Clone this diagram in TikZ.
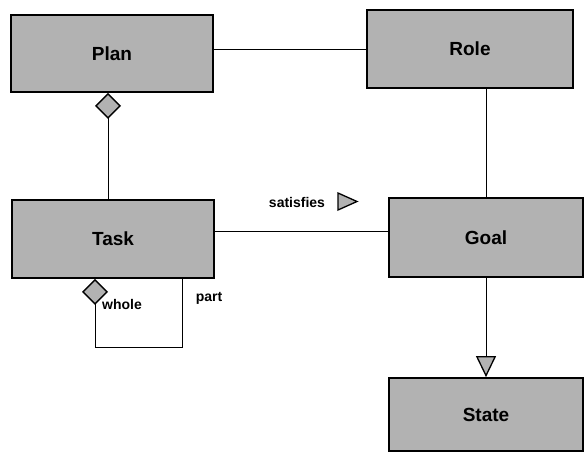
\documentclass[tikz,border=0pt]{standalone}
\usepackage{fontspec}
\setmainfont{Liberation Sans}
\usetikzlibrary{arrows.meta,calc}
\tikzset{
  cls/.style={draw, line width=1.8pt, fill=black!30, rectangle, inner sep=0pt,
    font=\fontsize{19}{22}\selectfont\bfseries},
  conn/.style={line width=1pt},
  lbl/.style={font=\fontsize{14}{16}\selectfont\bfseries, inner sep=0pt},
  agg/.style={{Diamond[width=26pt,length=26pt,fill=black!30,line width=1.4pt]}-},
  gen/.style={-{Triangle[width=20pt,length=21pt,fill=black!30,line width=1.3pt]}}
}
\begin{document}
\begin{tikzpicture}[x=1pt,y=-1pt]
\useasboundingbox (0,0) rectangle (585,452);
\node[cls, minimum width=202pt, minimum height=77pt] (Plan) at (112,53.5) {Plan};
\node[cls, minimum width=206pt, minimum height=78pt] (Role) at (470,49) {Role};
\node[cls, minimum width=202pt, minimum height=78pt] (Task) at (113,239) {Task};
\node[cls, minimum width=194pt, minimum height=79pt] (Goal) at (486,237.5) {Goal};
\node[cls, minimum width=194pt, minimum height=73pt] (State) at (486,414.5) {State};

% Plan -- Role
\draw[conn] ($(Plan.north east)!0.45!(Plan.south east)$) coordinate (pr)
  -- (pr -| Role.west);
% Role -- Goal
\draw[conn] (Goal.north |- Role.south) -- (Goal.north);
% Plan <>-- Task
\draw[conn, agg] ([xshift=-4pt]Plan.south) -- ([xshift=-5pt]Task.north);
% Task -- Goal
\draw[conn] ($(Task.north east)!0.41!(Task.south east)$) coordinate (tg)
  -- (tg -| Goal.west);
% Goal --|> State
\draw[conn, gen] (Goal.south) -- (State.north);
% Task self aggregation
\draw[conn, agg] ([xshift=-18pt]Task.south) -- ++(0,69) -| ([xshift=69pt]Task.south);

\node[lbl] (satisfies) at (297,202) {satisfies};
\draw[line width=1.3pt, fill=black!30] (338,193) -- (357,201.5) -- (338,210) -- cycle;
\node[lbl] (whole) at (122,304) {whole};
\node[lbl] (part) at (209,298) {part};
\end{tikzpicture}
\end{document}
